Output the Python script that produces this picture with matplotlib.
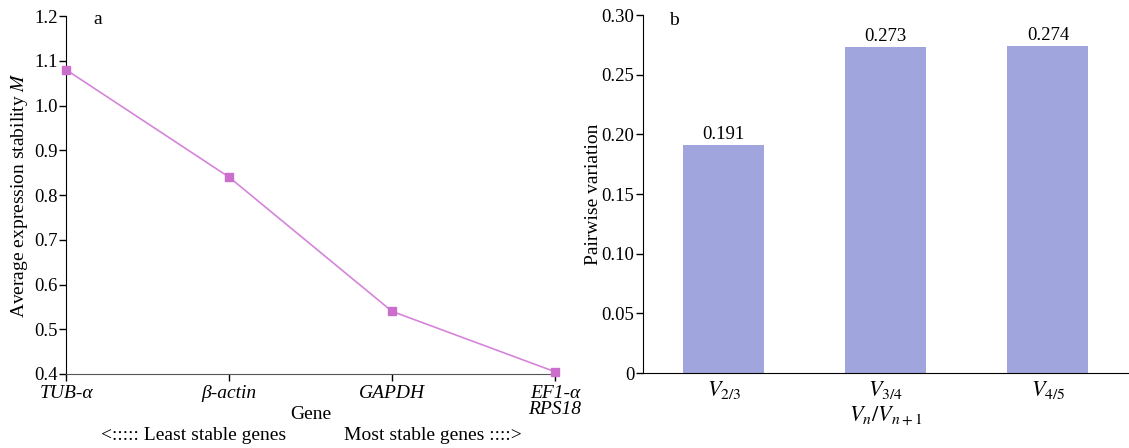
import matplotlib
matplotlib.use("Agg")
import matplotlib.pyplot as plt

# -----------------------------
# Данные
# -----------------------------
genes = ["TUB-α", "β-actin", "GAPDH", "EF1-α\nRPS18"]
stability_m = [1.08, 0.84, 0.54, 0.405]

pairs = [r"$V_{2/3}$", r"$V_{3/4}$", r"$V_{4/5}$"]
pairwise_v = [0.191, 0.273, 0.274]
pairwise_lbl = ["0.191", "0.273", "0.274"]

left_yticks = [0.4, 0.5, 0.6, 0.7, 0.8, 0.9, 1.0, 1.1, 1.2]
right_yticks = [0, 0.05, 0.10, 0.15, 0.20, 0.25, 0.30]
right_ylabels = ["0", "0.05", "0.10", "0.15", "0.20", "0.25", "0.30"]

# -----------------------------
# Оформление
# -----------------------------
plt.rcParams["font.family"] = ["Liberation Serif", "DejaVu Serif"]
plt.rcParams["mathtext.fontset"] = "stix"
plt.rcParams["font.size"] = 14

fig = plt.figure(figsize=(11.29, 4.48), dpi=100)

# -----------------------------
# Панель a
# -----------------------------
ax1 = fig.add_axes([0.0585, 0.1652, 0.4331, 0.799])
x = list(range(len(genes)))
ax1.plot(x, stability_m, color="#d684da", lw=1.2,
         marker="s", ms=6, mfc="#cc6fcc", mec="#cc6fcc", clip_on=False, zorder=3)
ax1.set_xlim(0, 3)
ax1.set_ylim(0.4, 1.2)
ax1.set_xticks(x)
ax1.set_xticklabels(genes, fontstyle="italic", linespacing=0.95, fontsize=14)
ax1.set_yticks(left_yticks)
ax1.set_yticklabels([f"{v:.1f}" for v in left_yticks], fontsize=13.5)
ax1.spines["top"].set_visible(False)
ax1.spines["right"].set_visible(False)
ax1.spines["bottom"].set_color("#555555")
ax1.tick_params(axis="y", direction="out", length=5, width=1, pad=1)
ax1.tick_params(axis="x", direction="out", length=5, width=1, pad=3)
ax1.set_ylabel("Average expression stability $\\mathit{M}$", labelpad=3)
ax1.set_xlabel("Gene", labelpad=-9)
ax1.text(0.065, 0.99, "a", transform=ax1.transAxes, ha="center", va="center")

fig.text(0.0895, 0.029, "<::::: Least stable genes", ha="left", va="center")
fig.text(0.305, 0.029, "Most stable genes ::::>", ha="left", va="center")

# -----------------------------
# Панель b
# -----------------------------
ax2 = fig.add_axes([0.5693, 0.1674, 0.4307, 0.799])
xb = list(range(len(pairs)))
bars = ax2.bar(xb, pairwise_v, width=0.5, color="#a1a5dd")
ax2.set_xlim(-0.5, 2.5)
ax2.set_ylim(0, 0.30)
ax2.set_xticks(xb)
ax2.set_xticklabels(pairs, fontsize=16)
ax2.set_yticks(right_yticks)
ax2.set_yticklabels(right_ylabels, fontsize=13.5)
ax2.spines["top"].set_visible(False)
ax2.spines["right"].set_visible(False)
ax2.tick_params(axis="x", length=0, pad=4)
ax2.tick_params(axis="y", direction="out", length=5, width=1, pad=1)
ax2.set_ylabel("Pairwise variation", labelpad=0)
ax2.set_xlabel(r"$V_n/V_{n+1}$", fontsize=16, labelpad=3)
for b, lbl in zip(bars, pairwise_lbl):
    ax2.text(b.get_x() + b.get_width() / 2, b.get_height() + 0.002, lbl,
             ha="center", va="bottom", fontsize=13.5)
ax2.text(0.065, 0.985, "b", transform=ax2.transAxes, ha="center", va="center")

fig.savefig("out.png", dpi=100)
plt.close(fig)
